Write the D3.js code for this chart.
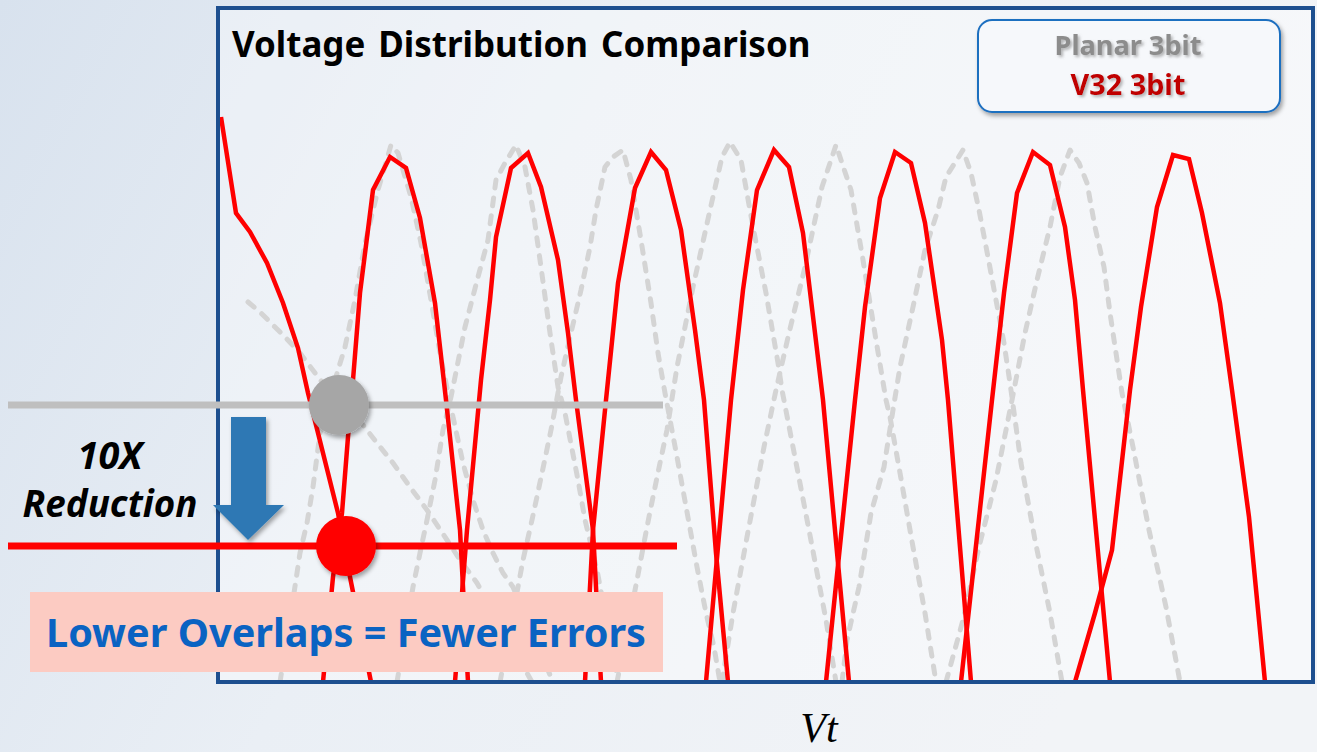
<!DOCTYPE html>
<html>
<head>
<meta charset="utf-8">
<script src="https://cdn.jsdelivr.net/npm/d3@7/dist/d3.min.js"></script>
<style>
  html, body { margin: 0; padding: 0; }
  body { width: 1317px; height: 752px; overflow: hidden; }
</style>
</head>
<body>
<svg id="chart" width="1317" height="752"></svg>
<script>
// ---------------- DATA (Vt in a.u., cell count in a.u.) ----------------
const vtDomain = [0, 1095];
const countDomain = [0, 674];

// V32 3bit (solid red) - erase state + 7 program states
const v32E  = [[3,565],[18,469],[32,450],[49,419],[65,379],[80,334],[90,289],[120,169],[132,105],[153,0]];
const v32P1 = [[105,0],[115,105],[124,169],[130,245],[135,302],[142,389],[155,492],[172,525],[188,514],[202,464],[217,379],[228,282],[242,152],[250,0]];
const v32P2 = [[237,0],[249,152],[263,302],[272,382],[278,445],[293,514],[310,529],[323,495],[340,422],[350,349],[358,282],[375,152],[383,0]];
const v32P3 = [[367,0],[375,152],[388,282],[400,399],[417,494],[433,530],[448,512],[463,452],[477,352],[486,282],[498,129],[510,0]];
const v32P4 = [[488,0],[513,282],[525,392],[539,492],[556,532],[571,515],[585,449],[597,349],[605,282],[620,119],[631,0]];
const v32P5 = [[608,0],[637,282],[647,375],[662,484],[677,530],[693,519],[707,459],[724,342],[730,282],[753,0]];
const v32P6 = [[743,0],[774,282],[786,389],[799,489],[815,530],[832,517],[847,455],[857,382],[865,292],[892,0]];
const v32P7 = [[857,0],[877,69],[894,132],[912,292],[923,375],[939,475],[955,527],[971,523],[984,469],[1002,379],[1014,292],[1031,165],[1047,0]];

// Planar 3bit (dashed grey)
const planarE  = [[30,380],[43,369],[67,345],[82,329],[100,305],[122,277],[145,257],[159,239],[175,219],[192,195],[209,172],[229,142],[242,122],[259,99],[314,0]];
const planarP1 = [[62,0],[73,69],[82,129],[89,159],[95,195],[102,249],[117,302],[127,335],[137,382],[147,439],[160,492],[173,537],[180,529],[193,485],[203,439],[213,382],[222,329],[230,289],[235,265],[245,219],[255,182],[265,152],[275,129],[285,109],[295,95],[335,0]];
const planarP2 = [[179,0],[195,95],[202,129],[209,162],[217,202],[225,252],[233,285],[247,355],[260,405],[270,442],[278,502],[287,519],[298,537],[307,515],[315,472],[323,415],[332,349],[340,295],[347,269],[360,202],[367,162],[379,112],[400,0]];
const planarP3 = [[282,0],[300,95],[305,122],[314,162],[324,209],[333,252],[343,305],[353,349],[363,392],[372,435],[378,472],[387,515],[395,525],[405,532],[413,502],[423,442],[433,379],[440,329],[447,289],[459,225],[471,159],[479,115],[488,69],[496,35],[502,0]];
const planarP4 = [[399,0],[419,102],[429,155],[435,185],[442,219],[449,252],[459,315],[475,395],[492,472],[504,525],[512,540],[523,522],[535,455],[548,389],[560,319],[564,292],[575,235],[591,152],[608,62],[618,0]];
const planarP5 = [[504,0],[515,69],[529,145],[546,235],[558,292],[571,349],[587,415],[604,495],[618,537],[633,492],[645,422],[658,342],[668,282],[672,265],[682,209],[695,135],[707,69],[718,0]];
const planarP6 = [[624,0],[629,42],[641,95],[653,169],[666,215],[675,272],[682,315],[695,375],[707,432],[720,472],[728,505],[745,532],[753,509],[761,472],[770,425],[778,382],[786,339],[792,299],[803,219],[817,142],[832,69],[844,0]];
const planarP7 = [[728,0],[745,62],[761,135],[778,202],[794,282],[807,349],[819,402],[832,455],[842,505],[852,532],[861,519],[869,499],[877,455],[886,415],[892,369],[898,329],[904,289],[915,235],[931,152],[948,75],[962,0]];

const v32Series    = [v32E, v32P1, v32P2, v32P3, v32P4, v32P5, v32P6, v32P7];
const planarSeries = [planarE, planarP1, planarP2, planarP3, planarP4, planarP5, planarP6, planarP7];

// overlap (error) levels: [count level, line start Vt, line end Vt, crossing Vt]
const planarOverlap = [277, -210, 445, 121];
const v32Overlap    = [136, -210, 459, 128];

const legendLabels = ["Planar 3bit", "V32 3bit"];
const titleText = "Voltage Distribution Comparison";
const reductionLabels = ["10X", "Reduction"];
const noteText = "Lower Overlaps = Fewer Errors";
const axisLabel = "Vt";

// ---------------- LAYOUT ----------------
const W = 1317, H = 752;
const plot = { left: 218, right: 1313, top: 8, bottom: 682 };

const svg = d3.select("#chart");
const defs = svg.append("defs");

const bg = defs.append("linearGradient").attr("id", "bg").attr("x1", 0).attr("x2", 1).attr("y1", 0).attr("y2", 0.3);
bg.append("stop").attr("offset", "0%").attr("stop-color", "#d8e2ee");
bg.append("stop").attr("offset", "45%").attr("stop-color", "#eaeff5");
bg.append("stop").attr("offset", "100%").attr("stop-color", "#f2f4f7");

const shadow = defs.append("filter").attr("id", "shadow").attr("x", "-30%").attr("y", "-30%").attr("width", "160%").attr("height", "160%");
shadow.append("feDropShadow").attr("dx", 2).attr("dy", 3).attr("stdDeviation", 2).attr("flood-color", "#000").attr("flood-opacity", 0.35);

const tshadow = defs.append("filter").attr("id", "tshadow").attr("x", "-20%").attr("y", "-40%").attr("width", "140%").attr("height", "180%");
tshadow.append("feDropShadow").attr("dx", 2).attr("dy", 2).attr("stdDeviation", 1.6).attr("flood-color", "#777").attr("flood-opacity", 0.55);

defs.append("clipPath").attr("id", "plotClip").append("rect")
  .attr("x", plot.left).attr("y", plot.top)
  .attr("width", plot.right - plot.left).attr("height", plot.bottom - plot.top);

svg.append("rect").attr("width", W).attr("height", H).attr("fill", "url(#bg)");
svg.append("rect").attr("x", plot.left).attr("y", plot.top)
  .attr("width", plot.right - plot.left).attr("height", plot.bottom - plot.top)
  .attr("fill", "#ffffff").attr("opacity", 0.35);

const x = d3.scaleLinear().domain(vtDomain).range([plot.left, plot.right]);
const y = d3.scaleLinear().domain(countDomain).range([plot.bottom, plot.top]);

const line = d3.line().x(d => x(d[0])).y(d => y(d[1])).curve(d3.curveLinear);

const curves = svg.append("g").attr("clip-path", "url(#plotClip)");

curves.selectAll("path.planar").data(planarSeries).join("path")
  .attr("class", "planar")
  .attr("d", line)
  .attr("fill", "none")
  .attr("stroke", "#d4d4d4")
  .attr("stroke-width", 5)
  .attr("stroke-dasharray", "8,10")
  .attr("stroke-linecap", "round")
  .attr("stroke-linejoin", "round");

curves.selectAll("path.v32").data(v32Series).join("path")
  .attr("class", "v32")
  .attr("d", line)
  .attr("fill", "none")
  .attr("stroke", "#ff0000")
  .attr("stroke-width", 4.5)
  .attr("stroke-linejoin", "miter");

// frame
svg.append("rect").attr("x", plot.left).attr("y", plot.top)
  .attr("width", plot.right - plot.left).attr("height", plot.bottom - plot.top)
  .attr("fill", "none").attr("stroke", "#1d4f8f").attr("stroke-width", 4);

// overlap levels
function overlap(o, color, dotColor) {
  svg.append("line")
    .attr("x1", x(o[1])).attr("x2", x(o[2]))
    .attr("y1", y(o[0])).attr("y2", y(o[0]))
    .attr("stroke", color).attr("stroke-width", 7);
  svg.append("circle")
    .attr("cx", x(o[3])).attr("cy", y(o[0])).attr("r", 30)
    .attr("fill", dotColor).attr("filter", "url(#shadow)");
}
overlap(planarOverlap, "#bfbfbf", "#a6a6a6");
overlap(v32Overlap, "#ff0000", "#ff0000");

// arrow between levels
const ay0 = y(planarOverlap[0]) + 12, ay1 = y(v32Overlap[0]) - 6;
const ax = 248;
svg.append("path")
  .attr("d", `M${ax-17},${ay0} L${ax+18},${ay0} L${ax+18},${ay1-35} L${ax+36},${ay1-35} L${ax},${ay1} L${ax-35},${ay1-35} L${ax-17},${ay1-35} Z`)
  .attr("fill", "#2e78b4").attr("filter", "url(#shadow)");

function fit(sel, target) {
  const w = sel.node().getComputedTextLength();
  const fs = parseFloat(sel.attr("font-size"));
  sel.attr("font-size", fs * target / w);
  return sel;
}

// title
fit(svg.append("text").attr("x", 232).attr("y", 57)
  .attr("font-family", "'Noto Sans', 'Open Sans', sans-serif").attr("font-weight", 700)
  .attr("font-size", 30).attr("word-spacing", 4).attr("fill", "#000").text(titleText), 580);

// legend
svg.append("rect").attr("x", 978).attr("y", 20).attr("width", 302).attr("height", 92).attr("rx", 14)
  .attr("fill", "#f6f8fb").attr("stroke", "#1f6fc0").attr("stroke-width", 2).attr("filter", "url(#shadow)");
const legendColors = ["#8c8c8c", "#c00000"];
const legendY = [55, 95];
const legendW = [147, 115];
legendLabels.forEach((t, i) => {
  fit(svg.append("text").attr("x", 1128).attr("y", legendY[i]).attr("text-anchor", "middle")
    .attr("font-family", "'Noto Sans', 'Open Sans', sans-serif").attr("font-weight", 700)
    .attr("font-size", 24).attr("fill", legendColors[i]).attr("filter", "url(#tshadow)").text(t), legendW[i]);
});

// reduction labels
const redY = [469, 517], redW = [65, 175];
reductionLabels.forEach((t, i) => {
  fit(svg.append("text").attr("x", 110).attr("y", redY[i]).attr("text-anchor", "middle")
    .attr("font-family", "'Noto Sans', 'Open Sans', sans-serif").attr("font-weight", 700).attr("font-style", "italic")
    .attr("font-size", 30).attr("fill", "#000").text(t), redW[i]);
});

// note box
svg.append("rect").attr("x", 30).attr("y", 592).attr("width", 633).attr("height", 80).attr("fill", "#fccbc2");
fit(svg.append("text").attr("x", 346).attr("y", 647).attr("text-anchor", "middle")
  .attr("font-family", "'Noto Sans', 'Open Sans', sans-serif").attr("font-weight", 700)
  .attr("font-size", 34).attr("fill", "#0a63c2").text(noteText), 600);

// axis label
svg.append("text").attr("x", 819).attr("y", 742).attr("text-anchor", "middle")
  .attr("font-family", "'Liberation Serif', 'DejaVu Serif', serif").attr("font-style", "italic")
  .attr("font-size", 42).attr("fill", "#000").text(axisLabel);
</script>
</body>
</html>
